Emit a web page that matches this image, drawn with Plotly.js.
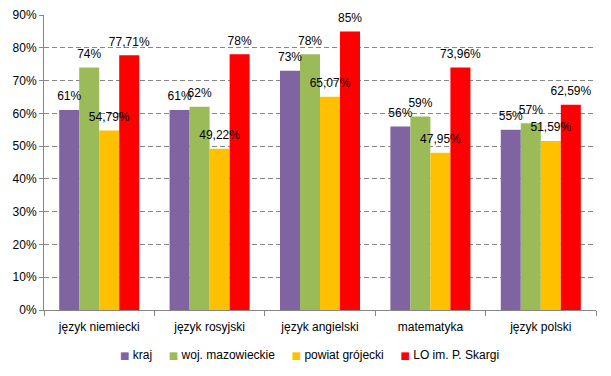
<!DOCTYPE html>
<html>
<head>
<meta charset="utf-8">
<script src="https://cdn.plot.ly/plotly-3.0.1.min.js"></script>
<style>html,body{margin:0;padding:0;background:#fff;}#chart{width:611px;height:376px;}</style>
</head>
<body>
<div id="chart"></div>
<script>
const categories = ["język niemiecki", "język rosyjski", "język angielski", "matematyka", "język polski"];
const seriesNames = ["kraj", "woj. mazowieckie", "powiat grójecki", "LO im. P. Skargi"];
const kraj = [61, 61, 73, 56, 55];
const woj = [74, 62, 78, 59, 57];
const powiat = [54.79, 49.22, 65.07, 47.95, 51.59];
const lo = [77.71, 78, 85, 73.96, 62.59];
const colors = ["#8064A2", "#9BBB59", "#FFC000", "#FF0000"];

function fmt(v) {
  return (Number.isInteger(v) ? String(v) : v.toFixed(2).replace(".", ",")) + "%";
}

const font = "Liberation Sans, Arial, sans-serif";
const all = [kraj, woj, powiat, lo];
const bars = all.map((vals, i) => ({
  type: "bar",
  name: seriesNames[i],
  x: categories,
  y: vals,
  offsetgroup: "g" + i,
  marker: {color: colors[i]},
  showlegend: false,
  hoverinfo: "none"
}));
const labels = all.map((vals, i) => ({
  type: "scatter",
  mode: "markers+text",
  x: categories,
  y: vals,
  offsetgroup: "g" + i,
  text: vals.map(fmt),
  textposition: "top center",
  textfont: {family: font, size: 12, color: "#000"},
  marker: {size: 9, color: "rgba(0,0,0,0)"},
  cliponaxis: false,
  showlegend: false,
  hoverinfo: "none"
}));

// legend built as one centred line of text
const NB = "\u00A0";
const legendText = seriesNames.map((n, i) =>
  "<span style='font-family:DejaVu Sans;font-size:10px;color:" + colors[i] + "'>\u25A0</span>" + NB + n
).join(NB.repeat(5));

const layout = {
  width: 611, height: 376,
  margin: {l: 44, r: 15, t: 15, b: 66},
  paper_bgcolor: "#fff", plot_bgcolor: "#fff",
  barmode: "group", bargap: 0.275, bargroupgap: 0,
  scattermode: "group", scattergap: 0.275,
  font: {family: font, size: 12, color: "#000"},
  showlegend: false,
  annotations: [{
    xref: "paper", yref: "paper", x: 0.481, y: -0.154, xanchor: "center", yanchor: "middle",
    text: legendText, showarrow: false, font: {family: font, size: 12, color: "#000"}
  }],
  xaxis: {
    type: "category", showgrid: false, showline: true, linecolor: "#868686", linewidth: 1,
    ticks: "outside", tickson: "boundaries", ticklen: 5, tickcolor: "#868686",
    ticklabelstandoff: 6,
    tickfont: {size: 12}, fixedrange: true, automargin: false
  },
  yaxis: {
    range: [0, 90], dtick: 10, ticksuffix: "%",
    showgrid: true, gridcolor: "#868686", griddash: "5px,3px", gridwidth: 1,
    showline: true, linecolor: "#868686", linewidth: 1,
    ticks: "outside", ticklen: 4, tickcolor: "#868686",
    zeroline: false, tickfont: {size: 12}, fixedrange: true, automargin: false
  }
};

Plotly.newPlot("chart", bars.concat(labels), layout, {displayModeBar: false, staticPlot: true});
</script>
</body>
</html>
